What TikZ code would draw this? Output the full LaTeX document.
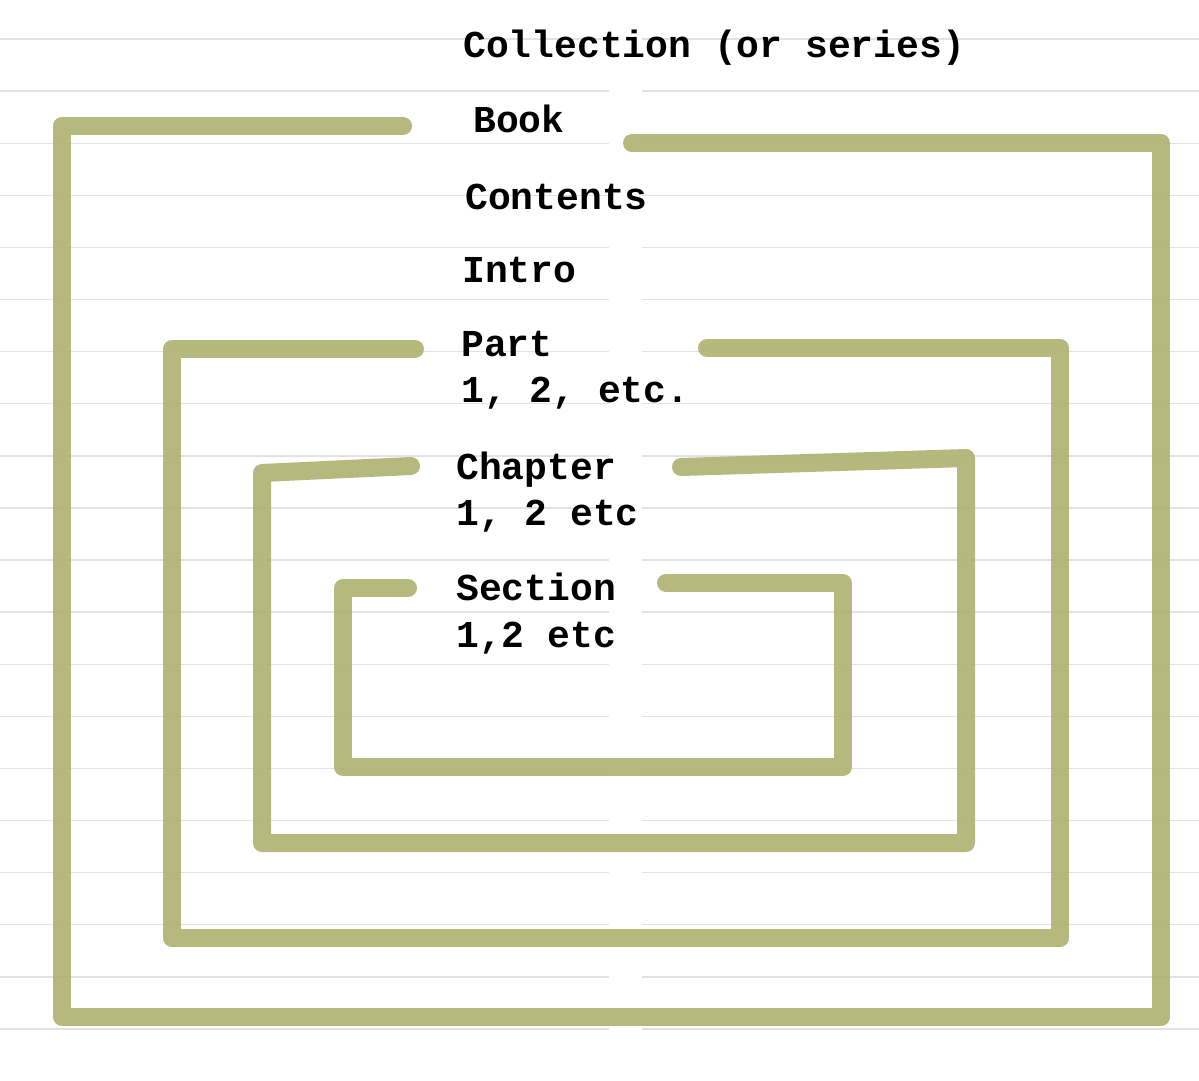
\documentclass[tikz,border=0pt]{standalone}
\usepackage{fontspec}
\newfontfamily\monob{Liberation Mono}
\definecolor{rulegray}{RGB}{226,226,230}
\definecolor{bandolive}{RGB}{176,177,111}
\begin{document}
\begin{tikzpicture}[x=1pt,y=-1pt,
  rule/.style={draw=rulegray, line width=1.4pt},
  band/.style={draw=bandolive, line width=18pt, line cap=round, line join=round, draw opacity=0.9},
  lbl/.style={anchor=base west, inner sep=0pt, font=\fontsize{38}{40}\selectfont\monob\bfseries}]
\useasboundingbox[fill=white] (0,0) rectangle (1199,1080);
% ruled lines with a small gap in the middle
\foreach \k in {0,...,19}{
  \pgfmathsetmacro{\yy}{39+52.1*\k}
  \draw[rule] (0,\yy) -- (609,\yy);
  \draw[rule] (642,\yy) -- (1199,\yy);
}
% bands
\draw[band] (403,126) -- (62,126) -- (62,1017) -- (1161,1017) -- (1161,143) -- (632,143);
\draw[band] (415,349) -- (172,349) -- (172,938) -- (1060,938) -- (1060,348) -- (707,348);
\draw[band] (411,466) -- (262,473) -- (262,843) -- (966,843) -- (966,458) -- (681,467);
\draw[band] (408,588) -- (343,588) -- (343,767) -- (843,767) -- (843,583) -- (666,583);
% labels
\node[lbl] (coll) at (463,57) {Collection (or series)};
\node[lbl] (book) at (473,132) {Book};
\node[lbl] (cont) at (465,209) {Contents};
\node[lbl] (intro) at (462,282) {Intro};
\node[lbl] (part) at (461,356) {Part};
\node[lbl] (partn) at (461,402) {1, 2, etc.};
\node[lbl] (chap) at (456,479) {Chapter};
\node[lbl] (chapn) at (456,525) {1, 2 etc};
\node[lbl] (sect) at (456,600) {Section};
\node[lbl] (sectn) at (456,647) {1,2 etc};
\end{tikzpicture}
\end{document}
